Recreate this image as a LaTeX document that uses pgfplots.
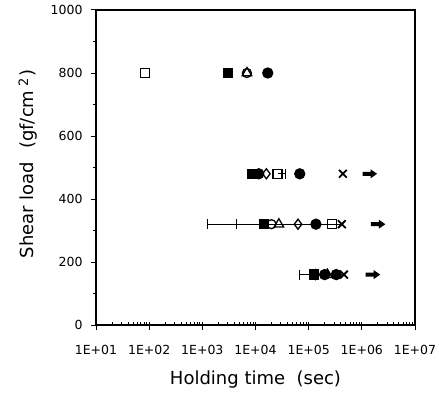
\documentclass[border=0pt]{standalone}
\usepackage{fontspec}
\setmainfont{DejaVu Sans}
\usepackage{pgfplots}
\pgfplotsset{compat=1.18}
\pgfdeclareplotmark{rarrow}{%
 \pgfpathmoveto{\pgfqpoint{-7pt}{-2pt}}%
 \pgfpathlineto{\pgfqpoint{1pt}{-2pt}}%
 \pgfpathlineto{\pgfqpoint{1pt}{-4.5pt}}%
 \pgfpathlineto{\pgfqpoint{7.5pt}{0pt}}%
 \pgfpathlineto{\pgfqpoint{1pt}{4.5pt}}%
 \pgfpathlineto{\pgfqpoint{1pt}{2pt}}%
 \pgfpathlineto{\pgfqpoint{-7pt}{2pt}}%
 \pgfpathclose
 \pgfusepathqfill}
\begin{document}
\begin{tikzpicture}
\useasboundingbox (-96pt,-72pt) rectangle (343pt,325pt);
\begin{axis}[
  at={(0,0)}, anchor=south west, scale only axis,
  width=319pt, height=315pt,
  xmode=log, xmin=10, xmax=1e7, ymin=0, ymax=1000,
  xtick={1e1,1e2,1e3,1e4,1e5,1e6,1e7},
  xticklabels={1E+01,1E+02,1E+03,1E+04,1E+05,1E+06,1E+07},
  ytick={0,200,400,600,800,1000},
  yticklabels={0,200,400,600,800,1000},
  minor ytick={100,300,500,700,900},
  xtick pos=bottom, ytick pos=left,
  tick align=outside,
  major tick length=5pt, minor tick length=3pt,
  minor x tick style={yshift=3pt},
  every tick/.style={black, line width=1pt},
  axis line style={line width=1.2pt},
  /pgf/number format/assume math mode=true,
  tick label style={font=\fontsize{12.5}{15}\selectfont},
  xticklabel style={yshift=-12pt},
  yticklabel style={xshift=-5pt},
  xlabel={Holding time\ \ (sec)},
  ylabel={Shear load\hspace{13pt}(gf/cm\hspace{4pt}\raisebox{0.6ex}{\fontsize{13}{15}\selectfont 2}\hspace{1.5pt})},
  xlabel style={font=\fontsize{18}{21}\selectfont, at={(axis description cs:0.5,0)}, yshift=-55pt, anchor=center},
  ylabel style={font=\fontsize{18}{21}\selectfont, at={(axis description cs:-0.213,0.511)}, anchor=center},
  every axis plot/.append style={line width=1.3pt},
]
% error bar lines
\addplot[black, line width=1.2pt, mark=none] coordinates {(1230,320) (420000,320)};
\addplot[black, line width=1.2pt, mark=none] coordinates {(26000,480) (37000,480)};
\addplot[black, line width=1.2pt, mark=none] coordinates {(68000,160) (125000,160)};
\addplot[black, only marks, mark=|, mark size=5pt, line width=1.2pt]
  coordinates {(1230,320) (4400,320) (37000,480) (68000,160)};
% filled square
\addplot[black, only marks, mark=square*, mark size=4.5pt]
  coordinates {(3000,800) (8500,480) (14500,320) (125000,160)};
% filled circle
\addplot[black, only marks, mark=*, mark size=5pt]
  coordinates {(17000,800) (11500,480) (68000,480) (137000,320) (200000,160) (330000,160)};
% open circle
\addplot[black, only marks, mark=o, mark size=4.5pt, mark options={fill=white}]
  coordinates {(6900,800) (20000,320)};
% open square
\addplot[black, only marks, mark=square, mark size=4.5pt, mark options={fill=white}]
  coordinates {(84,800) (26000,480) (275000,320)};
% open diamond
\addplot[black, only marks, mark=diamond, mark size=5pt, mark options={fill=white}]
  coordinates {(16000,480) (63000,320) (135000,160)};
% open triangle
\addplot[black, only marks, mark=triangle, mark size=5.5pt, mark options={fill=white}]
  coordinates {(6900,800) (27500,320) (225000,160)};
% cross
\addplot[black, only marks, mark=x, mark size=5.5pt, line width=1.8pt]
  coordinates {(440000,480) (420000,320) (460000,160)};
% arrows
\addplot[black, only marks, mark=rarrow]
  coordinates {(1.4e6,480) (2e6,320) (1.6e6,160)};
\end{axis}
\end{tikzpicture}
\end{document}
